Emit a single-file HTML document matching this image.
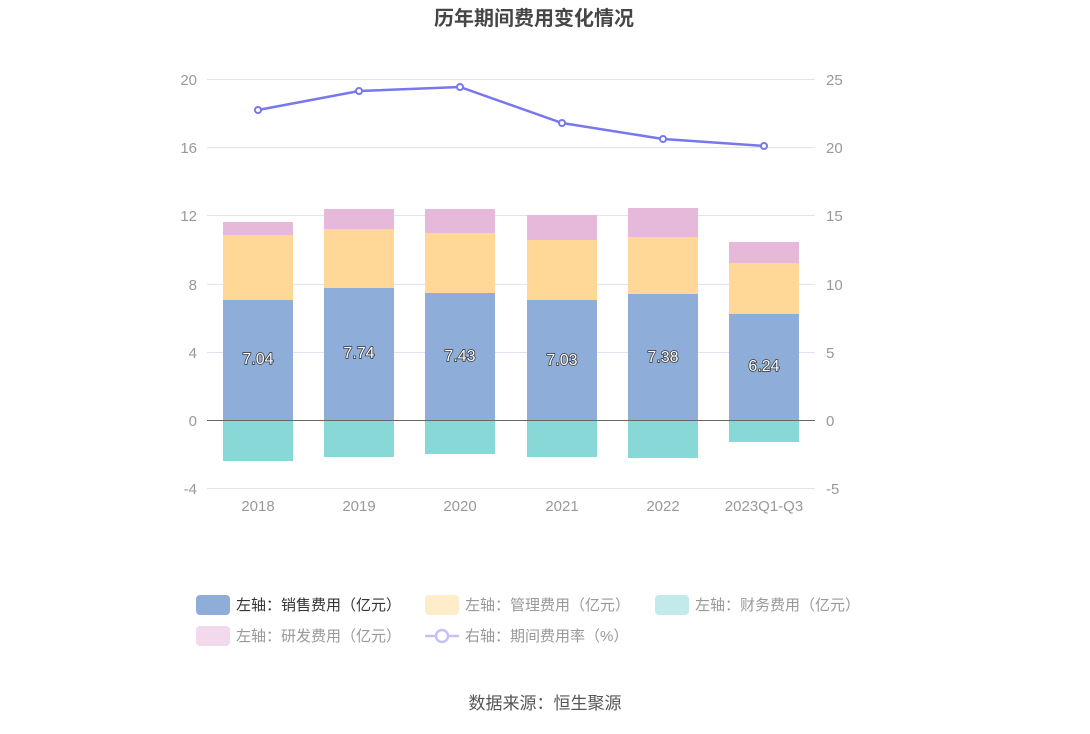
<!DOCTYPE html>
<html><head><meta charset="utf-8"><style>
body{margin:0;background:#fff;}
text{font-family:"Liberation Sans","Noto Sans CJK SC",sans-serif;}
</style></head><body>
<svg width="1090" height="729" xmlns="http://www.w3.org/2000/svg">
<text x="534" y="25" text-anchor="middle" font-size="20" font-weight="bold" fill="#464646">历年期间费用变化情况</text>
<g stroke="#e0e3ef" stroke-width="1">
<line x1="207" x2="815" y1="79.5" y2="79.5"/><line x1="207" x2="815" y1="147.5" y2="147.5"/>
<line x1="207" x2="815" y1="215.5" y2="215.5"/><line x1="207" x2="815" y1="284.5" y2="284.5"/>
<line x1="207" x2="815" y1="352.5" y2="352.5"/><line x1="207" x2="815" y1="488.5" y2="488.5"/>
</g>
<g font-size="15" fill="#999" text-anchor="end">
<text x="197" y="85">20</text><text x="197" y="153">16</text><text x="197" y="221">12</text>
<text x="197" y="290">8</text><text x="197" y="358">4</text><text x="197" y="426">0</text><text x="197" y="494">-4</text>
</g>
<g font-size="15" fill="#999">
<text x="826" y="85">25</text><text x="826" y="153">20</text><text x="826" y="221">15</text>
<text x="826" y="290">10</text><text x="826" y="358">5</text><text x="826" y="426">0</text><text x="826" y="494">-5</text>
</g>
<g font-size="15" fill="#999" text-anchor="middle">
<text x="258" y="511">2018</text><text x="359" y="511">2019</text><text x="460" y="511">2020</text>
<text x="562" y="511">2021</text><text x="663" y="511">2022</text><text x="764" y="511">2023Q1-Q3</text>
</g>
<g>
<rect x="223" y="300" width="70" height="120" fill="#8eaed9"/>
<rect x="324" y="288" width="70" height="132" fill="#8eaed9"/>
<rect x="425" y="293" width="70" height="127" fill="#8eaed9"/>
<rect x="527" y="300" width="70" height="120" fill="#8eaed9"/>
<rect x="628" y="294" width="70" height="126" fill="#8eaed9"/>
<rect x="729" y="314" width="70" height="106" fill="#8eaed9"/>
<rect x="223" y="235" width="70" height="65" fill="#ffd898"/>
<rect x="324" y="229" width="70" height="59" fill="#ffd898"/>
<rect x="425" y="233" width="70" height="60" fill="#ffd898"/>
<rect x="527" y="240" width="70" height="60" fill="#ffd898"/>
<rect x="628" y="237" width="70" height="57" fill="#ffd898"/>
<rect x="729" y="263" width="70" height="51" fill="#ffd898"/>
<rect x="223" y="222" width="70" height="13" fill="#e6b8da"/>
<rect x="324" y="209" width="70" height="20" fill="#e6b8da"/>
<rect x="425" y="209" width="70" height="24" fill="#e6b8da"/>
<rect x="527" y="215" width="70" height="25" fill="#e6b8da"/>
<rect x="628" y="208" width="70" height="29" fill="#e6b8da"/>
<rect x="729" y="242" width="70" height="21" fill="#e6b8da"/>
<rect x="223" y="420" width="70" height="41" fill="#88d8d8"/>
<rect x="324" y="420" width="70" height="37" fill="#88d8d8"/>
<rect x="425" y="420" width="70" height="34" fill="#88d8d8"/>
<rect x="527" y="420" width="70" height="37" fill="#88d8d8"/>
<rect x="628" y="420" width="70" height="38" fill="#88d8d8"/>
<rect x="729" y="420" width="70" height="22" fill="#88d8d8"/>
</g>
<line x1="207" x2="815" y1="420.5" y2="420.5" stroke="#666" stroke-width="1"/>
<g font-size="16" fill="#fff" stroke="#333" stroke-width="1.5" paint-order="stroke" text-anchor="middle">
<text x="258" y="364">7.04</text><text x="359" y="358">7.74</text><text x="460" y="361">7.43</text>
<text x="562" y="365">7.03</text><text x="663" y="362">7.38</text><text x="764" y="371">6.24</text>
</g>
<polyline points="258,110 359,91 460,87 562,123 663,139 764,146" fill="none" stroke="#7777ee" stroke-width="2.5"/>
<g fill="#fff" stroke="#7777ee" stroke-width="2">
<circle cx="258" cy="110" r="3"/><circle cx="359" cy="91" r="3"/><circle cx="460" cy="87" r="3"/>
<circle cx="562" cy="123" r="3"/><circle cx="663" cy="139" r="3"/><circle cx="764" cy="146" r="3"/>
</g>
<rect x="196" y="595" width="34" height="20" rx="4" fill="#8eaed9"/>
<text x="236" y="610" font-size="15" fill="#333">左轴：销售费用（亿元）</text>
<rect x="425" y="595" width="34" height="20" rx="4" fill="#ffecc8"/>
<text x="465" y="610" font-size="15" fill="#999">左轴：管理费用（亿元）</text>
<rect x="655" y="595" width="34" height="20" rx="4" fill="#c2eaea"/>
<text x="695" y="610" font-size="15" fill="#999">左轴：财务费用（亿元）</text>
<rect x="196" y="626" width="34" height="20" rx="4" fill="#f2d9ec"/>
<text x="236" y="641" font-size="15" fill="#999">左轴：研发费用（亿元）</text>
<line x1="425" x2="459" y1="636" y2="636" stroke="#c2c2f6" stroke-width="2.5"/>
<circle cx="442" cy="636" r="6" fill="#fff" stroke="#c2c2f6" stroke-width="2.5"/>
<text x="465" y="641" font-size="15" fill="#999">右轴：期间费用率（%）</text>
<text x="545" y="709" font-size="17" fill="#555" text-anchor="middle">数据来源：恒生聚源</text>
</svg>
</body></html>
